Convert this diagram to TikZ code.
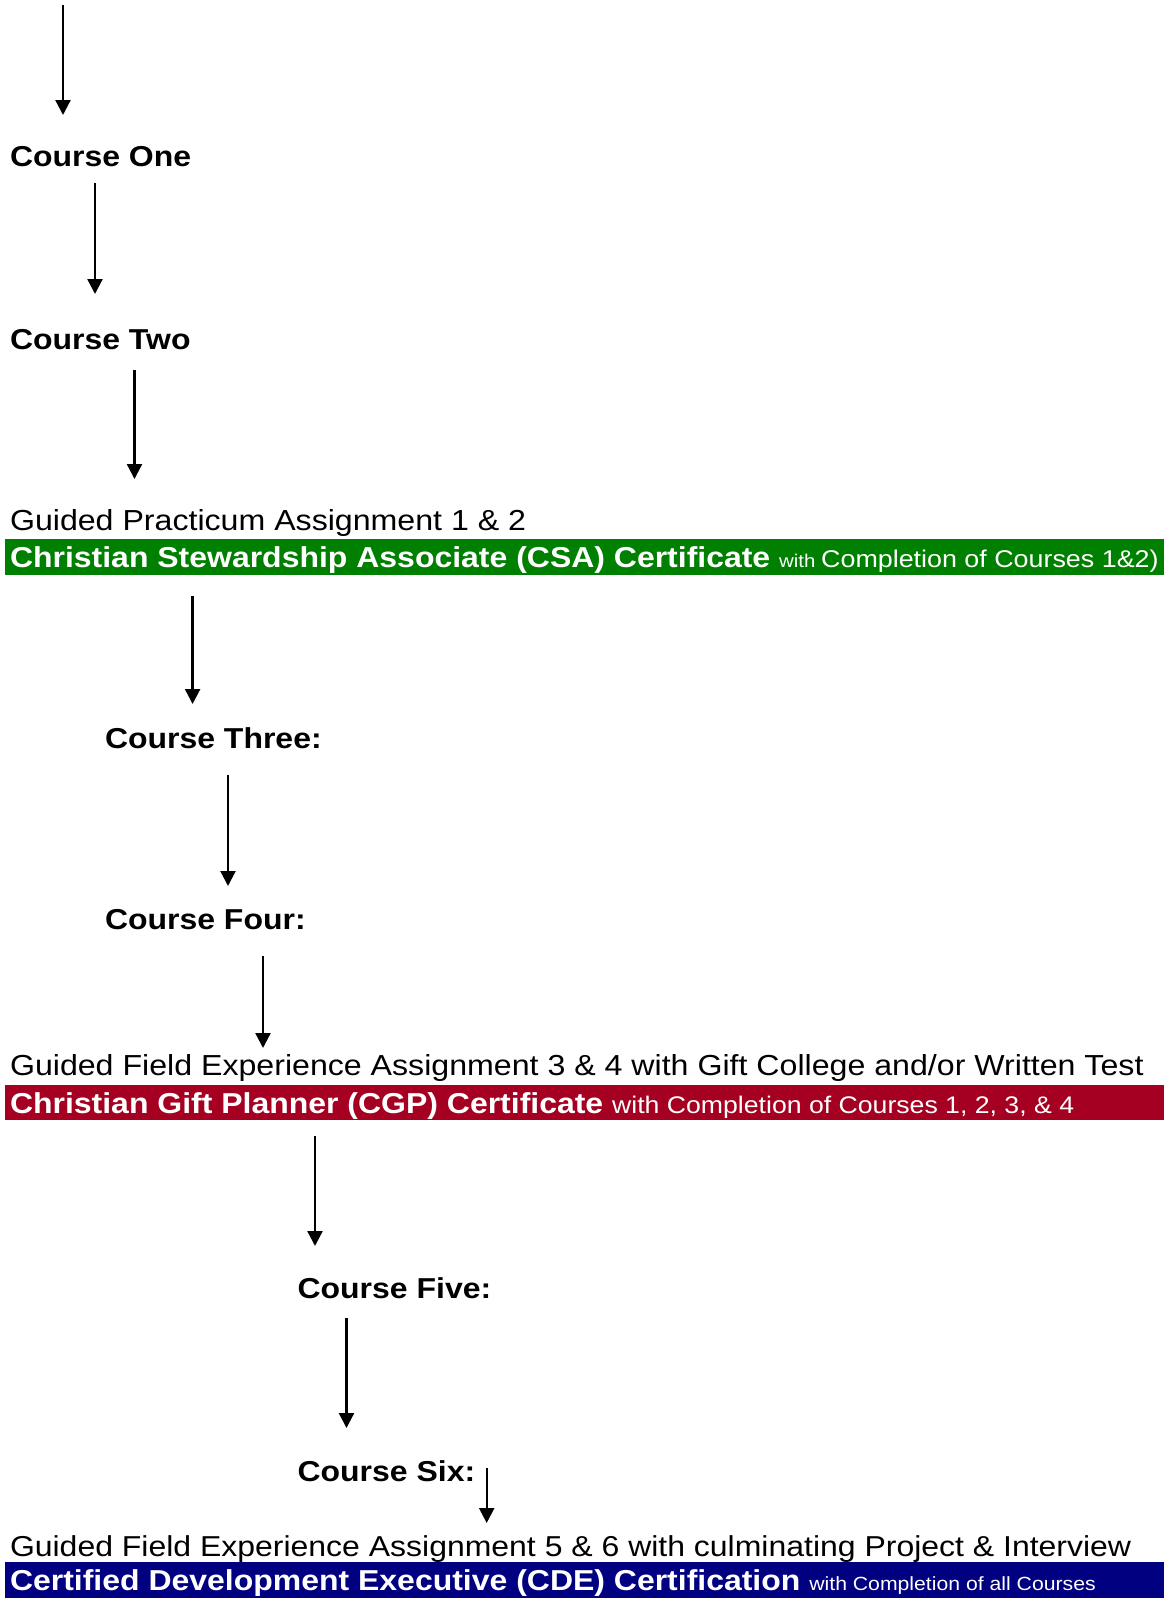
\documentclass[tikz,border=0pt]{standalone}
\usepackage{fontspec}
\setmainfont{Liberation Sans}[FakeStretch=1.11]
\usetikzlibrary{arrows.meta}
\definecolor{csagreen}{RGB}{0,128,0}
\definecolor{cgpred}{RGB}{165,0,33}
\definecolor{cdeblue}{RGB}{0,0,128}
\newcommand{\bigsz}{\fontsize{28.8}{30}\selectfont}
\newcommand{\guidesz}{\fontsize{28.95}{30}\selectfont}
\begin{document}
\begin{tikzpicture}[x=1pt,y=-1pt,
  txt/.style={anchor=base west, inner sep=0pt, outer sep=0pt},
  course/.style={txt, font=\bigsz\bfseries},
  guide/.style={txt, font=\guidesz},
  bartxt/.style={txt, text=white, font=\bigsz\bfseries},
  arr/.style={-{Triangle[length=15pt,width=15pt]}, line width=2.3pt},
  bar/.style={anchor=north west, inner sep=0pt, outer sep=0pt, minimum width=1159pt, minimum height=36pt}]
\useasboundingbox (0,0) rectangle (1167,1598);

% bars
\node[bar, fill=csagreen] (csabar) at (5,539) {};
\node[bar, fill=cgpred, minimum height=35pt] (cgpbar) at (5,1085) {};
\node[bar, fill=cdeblue] (cdebar) at (5,1562) {};

% texts
\node[course] (one) at (10,166) {Course One};
\node[course] (two) at (10,349) {Course Two};
\node[guide] (gp) at (10,530.5) {Guided Practicum Assignment 1 \& 2};
\node[bartxt] (csa) at (10,567) {Christian Stewardship Associate (CSA) Certificate {\fontsize{18.4}{20}\selectfont\mdseries with \fontsize{24.2}{25}\selectfont Completion of Courses 1\&2)}};
\node[course] (three) at (105,748) {Course Three:};
\node[course] (four) at (105,929) {Course Four:};
\node[guide] (gf34) at (10,1075) {Guided Field Experience Assignment 3 \& 4 with Gift College and/or Written Test};
\node[bartxt] (cgp) at (10,1113) {Christian Gift Planner (CGP) Certificate {\fontsize{24.0}{25}\selectfont\mdseries with Completion of Courses 1, 2, 3, \& 4}};
\node[course] (five) at (297.6,1298) {Course Five:};
\node[course] (six) at (297.6,1481) {Course Six:};
\node[guide, font=\fontsize{28.8}{30}\selectfont] (gf56) at (10,1556) {Guided Field Experience Assignment 5 \& 6 with culminating Project \& Interview};
\node[bartxt] (cde) at (10,1590) {Certified Development Executive (CDE) Certification {\fontsize{19.1}{21}\selectfont\mdseries with Completion of all Courses}};

% arrow endpoints
\coordinate (s1) at (63,5);      \coordinate (e1) at (63,115);
\coordinate (s2) at (95,183);    \coordinate (e2) at (95,294);
\coordinate (s3) at (134.5,370); \coordinate (e3) at (134.5,479);
\coordinate (s4) at (192.6,596); \coordinate (e4) at (192.6,704);
\coordinate (s5) at (228,775);   \coordinate (e5) at (228,886);
\coordinate (s6) at (263,956);   \coordinate (e6) at (263,1048);
\coordinate (s7) at (315,1136);  \coordinate (e7) at (315,1246);
\coordinate (s8) at (346.5,1318);\coordinate (e8) at (346.5,1428);
\coordinate (s9) at (486.7,1468);\coordinate (e9) at (486.7,1523);

\foreach \i in {1,...,9} {\draw[arr] (s\i) -- (e\i);}
\end{tikzpicture}
\end{document}
